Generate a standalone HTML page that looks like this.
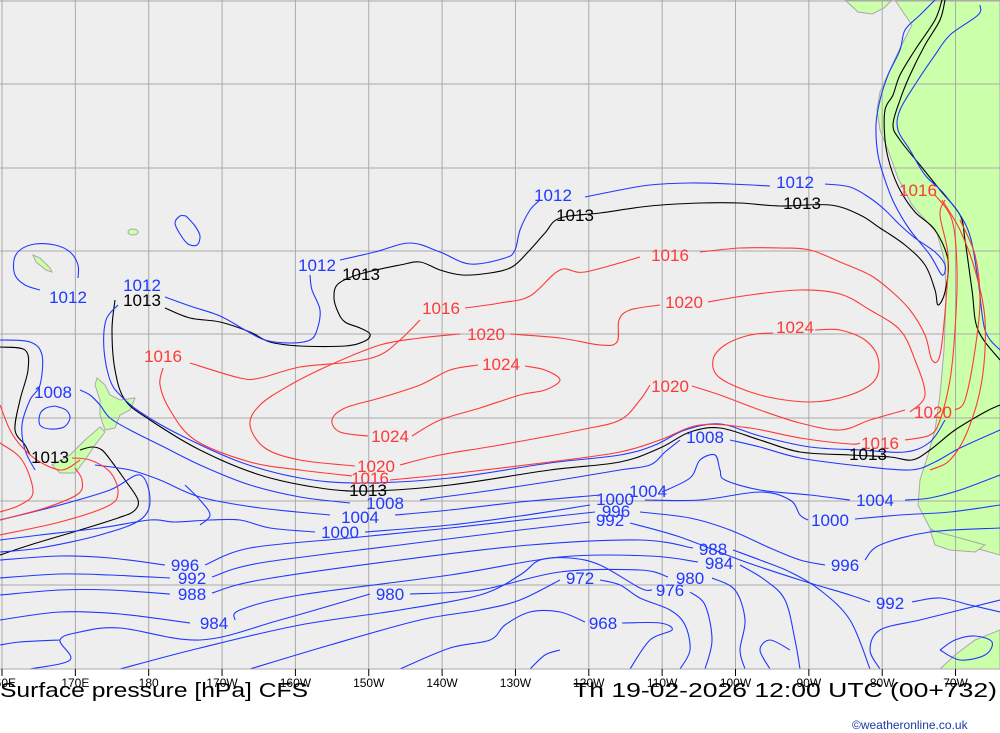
<!DOCTYPE html>
<html><head><meta charset="utf-8">
<style>
html,body{margin:0;padding:0;background:#fff;}
svg{display:block;}
text{font-family:"Liberation Sans",sans-serif;}
</style></head>
<body>
<svg id="map" width="1000" height="733" viewBox="0 0 1000 733" xmlns="http://www.w3.org/2000/svg">
<rect x="0" y="0" width="1000" height="669" fill="#eeeeee"/>
<g id="land">
<path fill="#ccffaa" stroke="#a8a8a8" stroke-width="1" d="M895 0 L1000 0 L1000 555 L975 548 L950 542 L930 528 L918 505 L920 480 L928 455 L935 430 L940 395 L944 350 L946 300 L945 262 L937 233 L912 205 L898 178 L888 150 L880 130 L877 110 L880 92 L890 70 L900 48 L912 25 L903 12 Z"/>
<path fill="#ccffaa" stroke="#a8a8a8" d="M845 0 L892 0 L884 8 L872 14 L858 12 Z"/>
<path fill="#ccffaa" stroke="#a8a8a8" d="M930 530 L960 538 L985 545 L975 552 L950 550 L935 545 Z"/>
<path fill="#ccffaa" stroke="#a8a8a8" d="M940 669 L955 655 L975 640 L1000 630 L1000 669 Z"/>
<path fill="#ccffaa" stroke="#a8a8a8" d="M97 378 L105 385 L110 395 L120 400 L135 398 L130 410 L120 415 L115 428 L105 430 L100 415 L100 400 L95 385 Z"/>
<path fill="#ccffaa" stroke="#a8a8a8" d="M100 427 L105 432 L95 445 L85 460 L75 473 L60 473 L52 465 L70 455 L85 440 Z"/>
<path fill="#ccffaa" stroke="#a8a8a8" d="M33 255 L40 258 L50 268 L52 272 L46 270 L36 262 Z"/>
<ellipse cx="133" cy="232" rx="5" ry="3" fill="#ccffaa" stroke="#a8a8a8"/>
</g>
<g id="grid" stroke="#aaaaaa" stroke-width="1"></g>
<g id="contours" fill="none" stroke-width="1.1"></g>
<g id="labels" font-size="17"></g>
<rect x="0" y="669" width="1000" height="64" fill="#ffffff"/>
<line x1="0" y1="669" x2="1000" y2="669" stroke="#aaaaaa"/>
<g id="xaxis" font-size="12" fill="#000"></g>
<text x="0" y="697" font-size="20" font-family="Liberation Mono, monospace" textLength="308" lengthAdjust="spacingAndGlyphs">Surface pressure [hPa] CFS</text>
<text x="573" y="697" font-size="20" font-family="Liberation Mono, monospace" textLength="424" lengthAdjust="spacingAndGlyphs">Th 19-02-2026 12:00 UTC (00+732)</text>
<text x="852" y="729" font-size="12" fill="#1a3ca0">©weatheronline.co.uk</text>
</svg>
<script>
const lonLabels = ["160E","170E","180","170W","160W","150W","140W","130W","120W","110W","100W","90W","80W","70W"];
const latLines = [1, 84, 168, 251, 334, 418, 501, 585];

const blue = "#2038ff", red = "#ff3838", black = "#000000";
const isobars = [
 {v:"1013", c:black, p:[[115,300],[112,330],[115,370],[125,400],[150,420],[200,450],[260,475],[320,488],[370,491],[450,485],[550,470],[620,462],[660,448],[690,432],[720,428],[760,440],[800,452],[850,455],[890,457],[912,460],[930,450],[955,430],[985,412],[1000,405]]},
 {v:"1013", c:black, p:[[165,308],[190,318],[220,322],[250,332],[270,342],[300,346],[345,346],[365,341],[370,334],[360,328],[345,322],[338,312],[334,298],[338,284],[360,274],[400,265],[420,262],[440,270],[462,275],[490,273],[512,267],[528,252],[545,233],[560,218],[600,213],[650,206],[700,203],[740,203],[780,206],[830,205],[860,215],[880,228],[905,245],[925,265],[935,290],[938,305],[945,292],[948,260],[935,230],[915,212],[900,190],[890,165],[885,140],[885,110],[893,95],[900,75],[915,50],[935,20],[942,0]]},
 {v:"1013", c:black, p:[[945,0],[940,20],[925,45],[910,75],[900,100],[893,125],[900,140],[920,165],[940,190],[960,215],[965,240],[972,290],[978,330],[1000,360]]},
 {v:"1013", c:black, p:[[0,347],[25,350],[28,370],[20,400],[15,430],[25,445],[30,455]]},
 {v:"1013", c:black, p:[[80,450],[92,447],[102,450],[112,462],[125,480],[138,500],[134,511],[118,518],[80,530],[30,545],[0,555]]},
 {v:"1012", c:blue, p:[[118,305],[106,320],[104,350],[110,380],[120,395],[140,412],[180,435],[240,462],[300,478],[360,483],[450,478],[550,463],[620,455],[655,445],[685,430],[720,424],[760,436],[810,447],[860,450],[905,452],[930,442],[945,420]]},
 {v:"1012", c:blue, p:[[165,297],[190,306],[220,316],[245,330],[265,340],[290,343],[310,340],[317,330],[320,310],[312,290],[310,275]]},
 {v:"1012", c:blue, p:[[340,260],[375,252],[410,243],[440,252],[470,264],[505,258],[515,250],[520,230],[530,210],[540,200]]},
 {v:"1012", c:blue, p:[[585,197],[620,190],[650,185],[690,183],[730,184],[770,186]]},
 {v:"1012", c:blue, p:[[825,184],[850,187],[870,198],[885,210],[900,225],[915,238],[935,252],[945,265],[942,275],[930,255],[910,230],[895,205],[885,180],[878,155],[876,125],[880,100],[888,75],[900,50],[905,30],[920,15],[935,0]]},
 {v:"1012", c:blue, p:[[980,5],[978,15],[950,35],[935,55],[918,80],[900,110],[898,130],[910,150],[925,175],[945,195],[968,230],[978,280],[985,330],[1000,350]]},
 {v:"1012", c:blue, p:[[40,290],[25,285],[15,275],[14,260],[20,250],[35,244],[55,245],[70,252],[78,265],[78,278]]},
 {v:"1012", c:blue, p:[[186,216],[195,226],[200,236],[197,245],[188,244],[180,234],[175,223],[180,216],[186,216]]},
 {v:"1008", c:blue, p:[[0,340],[30,342],[42,355],[40,385],[30,400],[22,425],[25,450],[35,470]]},
 {v:"1008", c:blue, p:[[55,406],[66,410],[70,418],[64,427],[50,429],[40,425],[40,414],[46,408],[55,406]]},
 {v:"1008", c:blue, p:[[80,390],[90,395],[100,405],[110,418],[130,430],[160,445],[200,465],[250,485],[300,497],[350,503]]},
 {v:"1008", c:blue, p:[[420,500],[480,492],[560,480],[620,470],[650,465],[665,452],[680,440]]},
 {v:"1008", c:blue, p:[[730,440],[760,447],[800,458],[860,466],[910,470],[935,462],[960,448],[1000,430]]},
 {v:"1004", c:blue, p:[[95,465],[130,470],[160,480],[200,497],[260,508],[330,515]]},
 {v:"1004", c:blue, p:[[395,515],[450,510],[520,502],[600,495]]},
 {v:"1004", c:blue, p:[[662,492],[690,478],[700,460],[715,455],[720,470],[725,480],[760,490],[810,495],[850,500]]},
 {v:"1004", c:blue, p:[[905,500],[930,498],[960,490],[1000,475]]},
 {v:"1000", c:blue, p:[[0,540],[40,535],[100,528],[150,520],[175,522],[210,520],[240,520],[270,528],[315,532]]},
 {v:"1000", c:blue, p:[[365,532],[450,525],[520,516],[590,505]]},
 {v:"1000", c:blue, p:[[645,500],[700,500],[760,492],[790,500],[800,515],[808,520]]},
 {v:"1000", c:blue, p:[[855,519],[900,515],[950,512],[1000,505]]},
 {v:"996", c:blue, p:[[0,560],[60,556],[110,558],[165,565]]},
 {v:"996", c:blue, p:[[205,565],[250,548],[350,538],[450,528],[540,518],[595,512]]},
 {v:"996", c:blue, p:[[640,512],[690,518],[730,530],[770,548],[800,560],[825,565]]},
 {v:"996", c:blue, p:[[865,560],[880,545],[930,532],[1000,528]]},
 {v:"992", c:blue, p:[[0,578],[60,574],[110,575],[170,578]]},
 {v:"992", c:blue, p:[[212,577],[260,563],[400,545],[520,530],[590,522]]},
 {v:"992", c:blue, p:[[630,523],[680,537],[740,560],[800,580],[850,595],[870,602]]},
 {v:"992", c:blue, p:[[912,602],[940,598],[970,605],[1000,612]]},
 {v:"988", c:blue, p:[[0,595],[60,590],[110,590],[170,594]]},
 {v:"988", c:blue, p:[[212,593],[260,580],[400,560],[530,545],[640,540],[693,548]]},
 {v:"988", c:blue, p:[[733,550],[760,560],[790,572],[820,590],[850,620],[870,669]]},
 {v:"984", c:blue, p:[[0,620],[60,612],[120,614],[190,623]]},
 {v:"984", c:blue, p:[[235,620],[240,610],[300,595],[450,575],[560,557],[650,556],[698,562]]},
 {v:"984", c:blue, p:[[740,565],[765,580],[785,600],[795,640],[800,669]]},
 {v:"980", c:blue, p:[[30,669],[70,660],[60,640],[80,632],[120,628],[200,640],[280,620],[370,594]]},
 {v:"980", c:blue, p:[[410,594],[480,590],[560,572],[640,570],[668,577]]},
 {v:"980", c:blue, p:[[712,578],[735,590],[745,620],[740,650],[745,669]]},
 {v:"976", c:blue, p:[[120,669],[200,648],[300,625],[400,610],[480,595],[520,575],[540,560],[570,558],[600,565],[640,588],[652,590]]},
 {v:"976", c:blue, p:[[690,592],[705,605],[712,640],[705,669]]},
 {v:"972", c:blue, p:[[250,669],[330,645],[420,620],[480,610],[520,600],[560,580]]},
 {v:"972", c:blue, p:[[600,580],[620,585],[640,598],[670,610],[685,625],[690,650],[680,669]]},
 {v:"968", c:blue, p:[[400,669],[450,648],[490,640],[505,625],[530,612],[560,612],[585,622]]},
 {v:"968", c:blue, p:[[622,623],[660,623],[672,630],[650,640],[630,669]]},
 {v:"bottom", c:blue, p:[[0,645],[20,642],[60,640]]},
 {v:"bottom", c:blue, p:[[530,669],[545,655],[560,650]]},
 {v:"bottom", c:blue, p:[[770,669],[760,650],[770,640],[790,650]]},
 {v:"bottom", c:blue, p:[[880,669],[870,650],[880,630],[920,620],[960,610],[1000,600]]},
 {v:"bottom", c:blue, p:[[940,650],[955,640],[975,636],[992,642],[985,655],[960,660],[940,650]]},
 {v:"bottom", c:blue, p:[[0,520],[60,505],[110,490],[140,475],[150,500],[140,520],[100,535],[40,548],[0,552]]},
 {v:"bottom", c:blue, p:[[185,485],[200,500],[210,515],[200,525]]},
 {v:"1016", c:red, p:[[163,368],[160,385],[170,410],[195,440],[250,462],[300,470],[352,476]]},
 {v:"1016", c:red, p:[[390,480],[450,474],[550,462],[620,452],[660,440],[700,425],[750,428],[800,438],[850,444],[860,443]]},
 {v:"1016", c:red, p:[[905,440],[930,435],[940,420],[950,380],[955,330],[957,270],[952,220],[935,195]]},
 {v:"1016", c:red, p:[[190,363],[240,378],[260,378],[300,367],[350,362],[380,355],[400,340],[420,320]]},
 {v:"1016", c:red, p:[[465,308],[500,303],[530,296],[560,270],[585,272],[640,257]]},
 {v:"1016", c:red, p:[[700,252],[740,248],[780,248],[810,250],[840,262],[870,275],[890,290],[910,310],[925,335],[932,360],[940,355],[946,300],[948,255],[940,215],[945,200]]},
 {v:"1016", c:red, p:[[942,200],[960,230],[975,270],[985,320],[982,380],[968,430],[950,460],[930,470]]},
 {v:"1020", c:red, p:[[355,466],[300,460],[265,448],[250,425],[260,405],[290,385],[330,365],[380,345],[420,338],[460,334]]},
 {v:"1020", c:red, p:[[510,334],[560,338],[600,345],[617,342],[619,320],[630,310],[660,305]]},
 {v:"1020", c:red, p:[[708,302],[750,295],[800,290],[840,294],[870,310],[900,330],[915,360],[925,395],[910,412]]},
 {v:"1020", c:red, p:[[955,410],[965,400],[975,350],[980,300],[975,255],[960,220]]},
 {v:"1020", c:red, p:[[905,410],[870,420],[840,430],[800,423],[760,410],[720,395],[692,386]]},
 {v:"1020", c:red, p:[[650,385],[640,400],[620,420],[580,430],[500,445],[440,455],[400,465]]},
 {v:"1024", c:red, p:[[368,436],[340,432],[332,420],[345,408],[380,398],[420,385],[450,370],[478,365]]},
 {v:"1024", c:red, p:[[525,366],[545,370],[560,380],[545,390],[520,395],[480,408],[440,420],[412,436]]},
 {v:"1024", c:red, p:[[773,333],[750,335],[725,345],[713,360],[720,378],[760,395],[810,402],[850,395],[875,380],[878,358],[865,340],[840,330],[815,330]]},
 {v:"nzred", c:red, p:[[0,405],[10,430],[22,447],[40,462],[62,470],[80,460]]},
 {v:"nzred", c:red, p:[[0,443],[22,460],[33,492],[20,505],[0,512]]},
 {v:"nzred", c:red, p:[[0,520],[45,508],[78,494],[82,480],[75,468]]},
 {v:"nzred", c:red, p:[[0,535],[60,522],[108,506],[118,492],[110,472],[90,460],[72,458]]}
];

const labels = [
 ["1012",553,195,blue],["1013",575,215,black],["1012",795,182,blue],["1013",802,203,black],
 ["1012",317,265,blue],["1013",361,274,black],["1012",142,285,blue],["1013",142,300,black],
 ["1012",68,297,blue],["1016",670,255,red],["1016",441,308,red],["1020",684,302,red],
 ["1020",486,334,red],["1024",795,327,red],["1016",163,356,red],["1024",501,364,red],
 ["1020",670,386,red],["1008",53,392,blue],["1020",933,412,red],["1024",390,436,red],
 ["1008",705,437,blue],["1016",880,443,red],["1013",50,457,black],["1013",868,454,black],
 ["1020",376,466,red],["1016",370,478,red],["1013",368,490,black],["1004",648,491,blue],
 ["1004",875,500,blue],["1008",385,503,blue],["1000",615,499,blue],["996",616,511,blue],
 ["992",610,520,blue],["1004",360,517,blue],["1000",830,520,blue],["1000",340,532,blue],
 ["988",713,549,blue],["984",719,563,blue],["996",185,565,blue],["996",845,565,blue],
 ["992",192,578,blue],["972",580,578,blue],["980",690,578,blue],["976",670,590,blue],
 ["988",192,594,blue],["980",390,594,blue],["992",890,603,blue],["984",214,623,blue],
 ["968",603,623,blue],["1016",918,190,red]
];

const NS = "http://www.w3.org/2000/svg";
const x0 = 2, dx = 73.35;
function lonX(i){ return x0 + i*dx; }

const grid = document.getElementById('grid');
lonLabels.forEach((l,i)=>{
  const ln = document.createElementNS(NS,'line');
  
  
  ln.setAttribute('x1',lonX(i)); ln.setAttribute('x2',lonX(i));
  ln.setAttribute('y1',0); ln.setAttribute('y2',669);
  grid.appendChild(ln);
});
latLines.forEach(y=>{
  const ln = document.createElementNS(NS,'line');
  
  
  ln.setAttribute('x1',0); ln.setAttribute('x2',1000);
  ln.setAttribute('y1',y); ln.setAttribute('y2',y);
  grid.appendChild(ln);
});
const xaxis = document.getElementById('xaxis');
lonLabels.forEach((l,i)=>{
  const t = document.createElementNS(NS,'text');
  
  
  t.setAttribute('x',lonX(i)); t.setAttribute('y',687);
  t.setAttribute('text-anchor','middle');
  t.textContent = l;
  xaxis.appendChild(t);
  const tk = document.createElementNS(NS,'line');
  
  
  tk.setAttribute('x1',lonX(i)); tk.setAttribute('x2',lonX(i));
  tk.setAttribute('y1',669); tk.setAttribute('y2',676);
  tk.setAttribute('stroke','#000');
  xaxis.appendChild(tk);
});

function smooth(p){
  let d = "M"+p[0][0]+" "+p[0][1];
  for(let i=0;i<p.length-1;i++){
    const a=p[Math.max(0,i-1)], b=p[i], c=p[i+1], e=p[Math.min(p.length-1,i+2)];
    const c1=[b[0]+(c[0]-a[0])/6, b[1]+(c[1]-a[1])/6];
    const c2=[c[0]-(e[0]-b[0])/6, c[1]-(e[1]-b[1])/6];
    d += " C"+c1[0].toFixed(1)+" "+c1[1].toFixed(1)+" "+c2[0].toFixed(1)+" "+c2[1].toFixed(1)+" "+c[0]+" "+c[1];
  }
  return d;
}
const cg = document.getElementById('contours');
isobars.forEach(iso=>{
  const path = document.createElementNS(NS,'path');
  
  
  path.setAttribute('d',smooth(iso.p));
  path.setAttribute('stroke',iso.c);
  cg.appendChild(path);
});
const lg = document.getElementById('labels');
labels.forEach(l=>{
  const t = document.createElementNS(NS,'text');
  
  
  t.setAttribute('x',l[1]); t.setAttribute('y',l[2]+6);
  t.setAttribute('text-anchor','middle');
  t.setAttribute('fill',l[3]);
  t.textContent = l[0];
  lg.appendChild(t);
});
</script>
</body></html>
